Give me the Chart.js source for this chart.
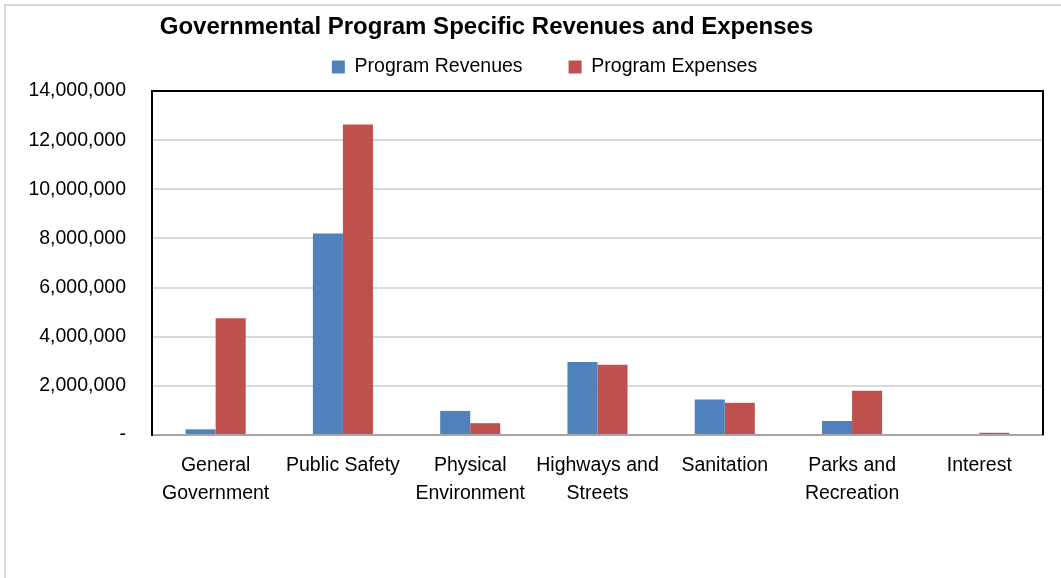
<!DOCTYPE html>
<html lang="en">
<head>
  <meta charset="UTF-8">
  <title>Governmental Program Specific Revenues and Expenses</title>
  <script src="https://cdn.jsdelivr.net/npm/chart.js"></script>
  <style>
    body {
      margin: 0;
      background: #fff;
      font-family: 'Liberation Sans', Arial, sans-serif;
    }
    .wrap {
      position: relative;
      width: 1061px;
      height: 578px;
      overflow: hidden;
    }
    .frame {
      position: absolute;
      left: 4px;
      top: 4px;
      width: 1100px;
      height: 600px;
      border-left: 2px solid #d9d9d9;
      border-top: 2px solid #d9d9d9;
    }
    canvas { position: absolute; left: 0; top: 0; }
  </style>
</head>
<body>
  <div class="wrap">
    <div class="frame"></div>
    <canvas id="chart" width="1061" height="578"></canvas>
  </div>

  <script>
    const categories = [
      ["General", "Government"],
      ["Public Safety"],
      ["Physical", "Environment"],
      ["Highways and", "Streets"],
      ["Sanitation"],
      ["Parks and", "Recreation"],
      ["Interest"]
    ];
    const programRevenues = [230000, 8200000, 980000, 2970000, 1440000, 570000, 0];
    const programExpenses = [4750000, 12640000, 480000, 2860000, 1310000, 1800000, 90000];
    const yTicks = [0, 2000000, 4000000, 6000000, 8000000, 10000000, 12000000, 14000000];

    const FONT = "'Liberation Sans', Arial, sans-serif";

    // title sits a bit left, legend a bit right, legend tucked up under the title
    const headerShift = {
      id: "headerShift",
      afterLayout(chart) {
        chart.titleBlock.right -= 70;
        chart.legend.left += 46;
        chart.legend.top -= 32.5;
      }
    };

    // top and right edges of the plot box
    const plotBox = {
      id: "plotBox",
      afterDraw(chart) {
        const { ctx, chartArea: a } = chart;
        ctx.save();
        ctx.strokeStyle = "#000";
        ctx.lineWidth = 2;
        ctx.beginPath();
        ctx.moveTo(a.left - 1, a.top);
        ctx.lineTo(a.right, a.top);
        ctx.lineTo(a.right, a.bottom);
        ctx.stroke();
        ctx.restore();
      }
    };

    const ctx = document.getElementById("chart").getContext("2d");
    new Chart(ctx, {
      type: "bar",
      data: {
        labels: categories,
        datasets: [
          { label: "Program Revenues", data: programRevenues, backgroundColor: "#4f81bd" },
          { label: "Program Expenses", data: programExpenses, backgroundColor: "#c0504d" }
        ]
      },
      options: {
        responsive: false,
        animation: false,
        layout: { padding: { left: 0, right: 18, top: 0, bottom: 0 } },
        datasets: { bar: { categoryPercentage: 0.472, barPercentage: 1.0 } },
        plugins: {
          title: {
            display: true,
            text: "Governmental Program Specific Revenues and Expenses",
            color: "#000",
            font: { family: FONT, size: 24, weight: "bold" },
            padding: { top: 13, bottom: 2 }
          },
          legend: {
            maxHeight: 47.2,
            labels: {
              color: "#000",
              boxWidth: 13,
              boxHeight: 13,
              padding: 46,
              font: { family: FONT, size: 19.5 }
            }
          },
          tooltip: { enabled: false }
        },
        scales: {
          x: {
            grid: { display: false, drawTicks: false },
            border: { color: "#a6a6a6", width: 2 },
            ticks: {
              color: "#000",
              padding: 17,
              maxRotation: 0,
              autoSkip: false,
              font: { family: FONT, size: 19.5, lineHeight: 1.42 }
            },
            afterFit(scale) { scale.height = 143; }
          },
          y: {
            min: 0,
            max: 14000000,
            afterBuildTicks(scale) { scale.ticks = yTicks.map(v => ({ value: v })); },
            grid: { color: "#d9d9d9", lineWidth: 2, drawTicks: false },
            border: { color: "#000", width: 2 },
            ticks: {
              color: "#000",
              padding: 26,
              font: { family: FONT, size: 19.5 },
              callback: v => v === 0 ? "-" : v.toLocaleString("en-US")
            },
            afterFit(scale) { scale.width = 152; }
          }
        }
      },
      plugins: [headerShift, plotBox]
    });
  </script>
</body>
</html>
